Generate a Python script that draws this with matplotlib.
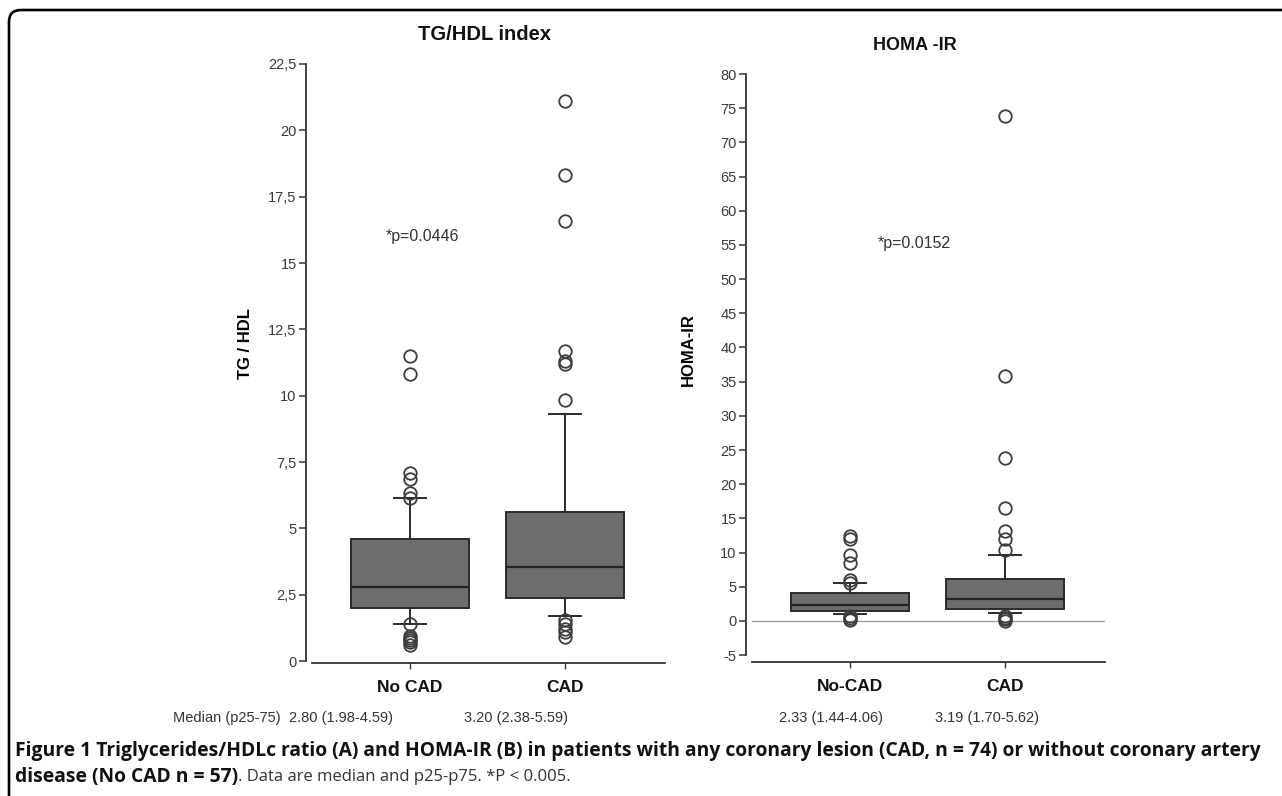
import matplotlib
matplotlib.use("Agg")
import matplotlib.pyplot as plt
from matplotlib.patches import FancyBboxPatch
from matplotlib.ticker import FixedLocator, FuncFormatter

# ---------------- data ----------------
groups_a = ["No CAD", "CAD"]
groups_b = ["No-CAD", "CAD"]

# TG/HDL box statistics (as drawn)
tg_q1 = [1.98, 2.38]
tg_med = [2.80, 3.55]
tg_q3 = [4.59, 5.60]
tg_whislo = [1.39, 1.71]
tg_whishi = [6.13, 9.32]
tg_fliers_nocad = [11.5, 10.8, 7.1, 6.85, 6.35, 6.15, 1.4, 0.95, 0.85, 0.78, 0.7, 0.6]
tg_fliers_cad = [21.1, 18.3, 16.6, 11.7, 11.3, 11.2, 9.85, 1.55, 1.38, 1.2, 1.1, 0.92]

# HOMA-IR box statistics (as drawn)
homa_q1 = [1.44, 1.80]
homa_med = [2.33, 3.25]
homa_q3 = [4.06, 6.20]
homa_whislo = [1.08, 1.10]
homa_whishi = [5.60, 9.70]
homa_fliers_nocad = [12.4, 12.0, 9.7, 8.5, 6.0, 5.6, 0.75, 0.4, 0.2]
homa_fliers_cad = [73.9, 35.8, 23.8, 16.5, 13.1, 12.0, 10.45, 0.75, 0.45, 0.25, 0.0]

tg_ticks = [0, 2.5, 5, 7.5, 10, 12.5, 15, 17.5, 20, 22.5]
homa_ticks = list(range(-5, 81, 5))

median_row_label = "Median (p25-75)"
median_row_a = ["2.80 (1.98-4.59)", "3.20 (2.38-5.59)"]
median_row_b = ["2.33 (1.44-4.06)", "3.19 (1.70-5.62)"]

p_a = "*p=0.0446"
p_b = "*p=0.0152"

# ---------------- figure ----------------
plt.rcParams['font.family'] = ['Liberation Sans', 'DejaVu Sans']
W, H = 1282, 796
fig = plt.figure(figsize=(W / 100, H / 100), dpi=100)

def px_axes(x0, y_top, x1, y_bot):
    return fig.add_axes([x0 / W, 1 - y_bot / H, (x1 - x0) / W, (y_bot - y_top) / H])

box_face = "#6d6d6d"
edge = "#2b2b2b"
tick_col = "#3a3a3a"

def make_stats(q1, med, q3, lo, hi, fliers_list):
    st = []
    for i in range(len(q1)):
        st.append(dict(q1=q1[i], med=med[i], q3=q3[i], whislo=lo[i], whishi=hi[i],
                       fliers=fliers_list[i]))
    return st

def draw_box(ax, stats):
    ax.bxp(stats, positions=[1, 2], widths=0.76, capwidths=0.21, patch_artist=True,
           showfliers=True, manage_ticks=False,
           boxprops=dict(facecolor=box_face, edgecolor=edge, linewidth=1.4),
           medianprops=dict(color="#222222", linewidth=1.6),
           whiskerprops=dict(color=edge, linewidth=1.4),
           capprops=dict(color=edge, linewidth=1.4),
           flierprops=dict(marker="o", markersize=9, markerfacecolor="none",
                           markeredgecolor="#3c3c3c", markeredgewidth=1.3))

def style_axes(ax, ticks, fmt, ylim, labels):
    ax.set_xlim(0.368, 2.645)
    ax.set_ylim(*ylim)
    for s in ["top", "right"]:
        ax.spines[s].set_visible(False)
    ax.spines["left"].set_position(("outward", 4))
    ax.spines["left"].set_bounds(ticks[0], ticks[-1])
    ax.spines["left"].set_linewidth(1.3)
    ax.spines["left"].set_color("#333333")
    ax.spines["bottom"].set_linewidth(1.3)
    ax.spines["bottom"].set_color("#333333")
    ax.yaxis.set_major_locator(FixedLocator(ticks))
    ax.yaxis.set_major_formatter(FuncFormatter(fmt))
    ax.tick_params(axis="y", direction="out", length=5, width=1.1, colors="#333333",
                   labelsize=10.5, labelcolor=tick_col, pad=2)
    ax.set_xticks([1, 2])
    ax.set_xticklabels(labels, fontsize=12.5, fontweight="bold", color="#111111")
    ax.tick_params(axis="x", direction="out", length=4, width=1.0, colors="#333333",
                   labelcolor="#111111", pad=8)

def comma_fmt(v, pos):
    return ("%g" % v).replace(".", ",")

def int_fmt(v, pos):
    return "%d" % v

# ---- panel A ----
axA = px_axes(312, 64, 665, 663)
draw_box(axA, make_stats(tg_q1, tg_med, tg_q3, tg_whislo, tg_whishi,
                         [tg_fliers_nocad, tg_fliers_cad]))
style_axes(axA, tg_ticks, comma_fmt, (-0.075, 22.5), groups_a)
axA.set_ylabel("TG / HDL", fontsize=12, fontweight="bold")
axA.yaxis.set_label_coords(-0.168, 0.534)
axA.text(1.084, 16.0, p_a, fontsize=11.5, color="#333333", ha="center", va="center")
fig.text(485 / W, 1 - 35 / H, "TG/HDL index", fontsize=14.5, fontweight="bold",
         ha="center", va="center", color="#111111")

# ---- panel B ----
axB = px_axes(752, 74, 1105, 662)
axB.axhline(0, color="#9a9a9a", linewidth=0.9, zorder=0)
draw_box(axB, make_stats(homa_q1, homa_med, homa_q3, homa_whislo, homa_whishi,
                         [homa_fliers_nocad, homa_fliers_cad]))
style_axes(axB, homa_ticks, int_fmt, (-6.0, 80), groups_b)
axB.set_ylabel("HOMA-IR", fontsize=12, fontweight="bold")
axB.yaxis.set_label_coords(-0.158, 0.531)
axB.text(1.413, 55.2, p_b, fontsize=11.5, color="#333333", ha="center", va="center")
fig.text(915 / W, 1 - 45 / H, "HOMA -IR", fontsize=13, fontweight="bold",
         ha="center", va="center", color="#111111")

# ---- median rows ----
row_y = 1 - 718 / H
fig.text(227 / W, row_y, median_row_label, fontsize=10.5, color="#333333",
         ha="center", va="center")
for xc, t in zip([341, 516], median_row_a):
    fig.text(xc / W, row_y, t, fontsize=10.5, color="#333333", ha="center", va="center")
for xc, t in zip([831, 987], median_row_b):
    fig.text(xc / W, row_y, t, fontsize=10.5, color="#333333", ha="center", va="center")

# ---- caption ----
cap_font = ['Open Sans', 'DejaVu Sans']
cap_size = 13.9
fig.text(15 / W, 1 - 751 / H,
         "Figure 1 Triglycerides/HDLc ratio (A) and HOMA-IR (B) in patients with any coronary lesion (CAD, n = 74) or without coronary artery",
         fontsize=cap_size, fontweight="bold", family=cap_font, color="#111111",
         ha="left", va="center")
t2 = fig.text(15 / W, 1 - 777 / H, "disease (No CAD n = 57)", fontsize=cap_size,
              fontweight="bold", family=cap_font, color="#111111", ha="left", va="center")
axA.annotate(". Data are median and p25-p75. *P < 0.005.", xy=(1, 0.5),
             xycoords=t2, ha="left", va="center", fontsize=12, family=cap_font,
             color="#333333", annotation_clip=False)

# ---- frame (top + left, rounded corner) ----
frame = FancyBboxPatch((9 / 100, -0.5), 14.0, (H - 10) / 100 + 0.5,
                       boxstyle="round,pad=0,rounding_size=0.12",
                       transform=fig.dpi_scale_trans, facecolor="none",
                       edgecolor="black", linewidth=1.9, clip_on=False)
fig.patches.append(frame)

fig.savefig("out.png", dpi=100)
